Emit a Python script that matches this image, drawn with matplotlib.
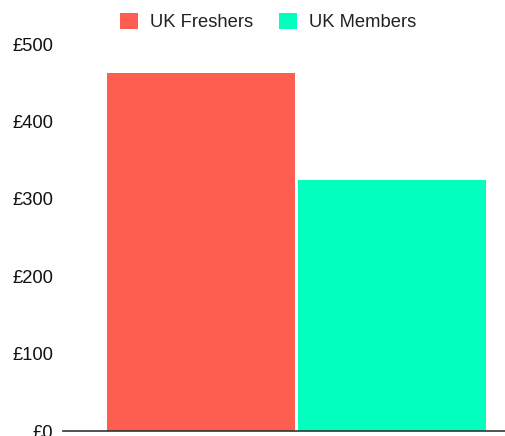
import matplotlib.pyplot as plt

# data
series = ["UK Freshers", "UK Members"]
values = [462, 324]
colors = ["#FE5E50", "#02FFBE"]
yticks = [0, 100, 200, 300, 400, 500]
ytick_labels = ["£0", "£100", "£200", "£300", "£400", "£500"]

plt.rcParams['font.family'] = ['Liberation Sans', 'DejaVu Sans']

fig = plt.figure(figsize=(5.06, 4.36), dpi=100)
ax = fig.add_axes([63 / 506, 5 / 436, 443 / 506, 387 / 436])

bar_width = 0.425
offsets = [-0.2156, 0.2156]
for name, val, col, off in zip(series, values, colors, offsets):
    ax.bar(off, val, width=bar_width, color=col, label=name)

ax.set_xlim(-0.527, 0.473)
ax.set_ylim(0, 500)
ax.set_xticks([])
ax.set_yticks(yticks)
ax.set_yticklabels(ytick_labels, fontsize=13.2, color="#111111")
ax.tick_params(axis='y', length=0, pad=7.2)

for side in ["top", "right", "left"]:
    ax.spines[side].set_visible(False)
ax.spines["bottom"].set_color("#333333")
ax.spines["bottom"].set_linewidth(1.2)

fig.legend(loc='center', bbox_to_anchor=(268 / 506, 1 - 22 / 436), ncol=2, frameon=False,
           fontsize=13.2, handlelength=1.0, handleheight=1.0, handletextpad=0.65,
           columnspacing=1.4, labelcolor="#222222", borderpad=0, borderaxespad=0)

fig.savefig("out.png", dpi=100)
